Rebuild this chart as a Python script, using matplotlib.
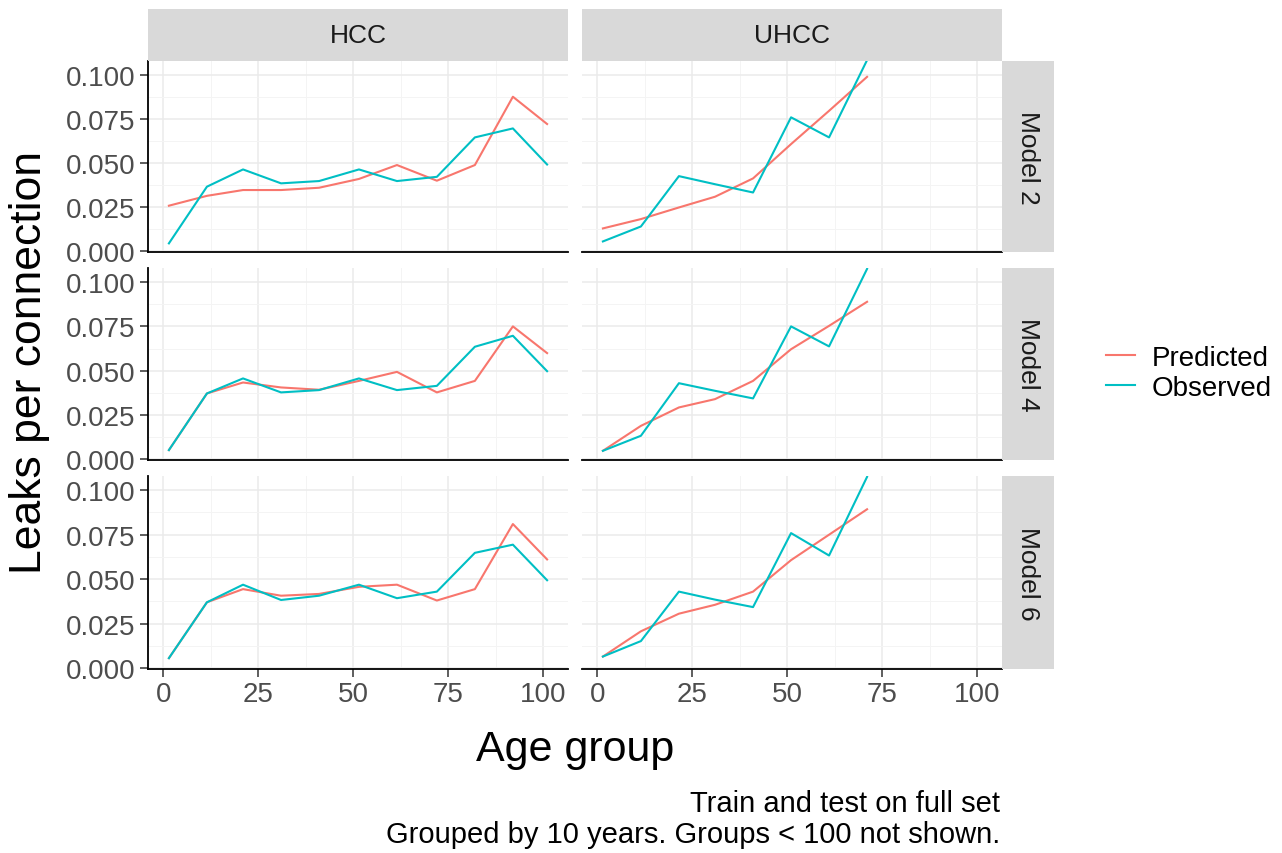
import matplotlib
matplotlib.use('Agg')
import matplotlib.pyplot as plt
from matplotlib.lines import Line2D
from matplotlib.ticker import MultipleLocator, FormatStrFormatter
import numpy as np

plt.rcParams['font.family'] = ['Liberation Sans', 'DejaVu Sans']

# age group means
ages_hcc = [1.5, 11.5, 21, 31, 41, 51.5, 61.5, 72, 82, 92, 101]
ages_uhcc = [1.5, 11.5, 21.5, 31, 41, 51, 61, 71]

models = ['Model 2', 'Model 4', 'Model 6']
sets = ['HCC', 'UHCC']

# leaks per connection, HCC
hcc_pred = {
    'Model 2': [0.0258, 0.0314, 0.0347, 0.0347, 0.0360, 0.0410, 0.0489, 0.0400, 0.0489, 0.0877, 0.0722],
    'Model 4': [0.0051, 0.0371, 0.0433, 0.0405, 0.0392, 0.0442, 0.0493, 0.0377, 0.0442, 0.0750, 0.0599],
    'Model 6': [0.0056, 0.0370, 0.0444, 0.0407, 0.0417, 0.0457, 0.0469, 0.0380, 0.0444, 0.0810, 0.0611],
}
hcc_obs = {
    'Model 2': [0.0044, 0.0366, 0.0464, 0.0385, 0.0398, 0.0464, 0.0398, 0.0422, 0.0646, 0.0697, 0.0492],
    'Model 4': [0.0051, 0.0371, 0.0456, 0.0377, 0.0390, 0.0456, 0.0390, 0.0414, 0.0635, 0.0697, 0.0497],
    'Model 6': [0.0056, 0.0370, 0.0469, 0.0383, 0.0407, 0.0469, 0.0393, 0.0430, 0.0648, 0.0694, 0.0494],
}

# leaks per connection, UHCC
uhcc_pred = {
    'Model 2': [0.0129, 0.0182, 0.0248, 0.0309, 0.0413, 0.0608, 0.0797, 0.0990],
    'Model 4': [0.0047, 0.0188, 0.0292, 0.0339, 0.0442, 0.0621, 0.0753, 0.0889],
    'Model 6': [0.0065, 0.0207, 0.0306, 0.0356, 0.0430, 0.0607, 0.0750, 0.0893],
}
uhcc_obs = {
    'Model 2': [0.0055, 0.0140, 0.0426, 0.0380, 0.0333, 0.0760, 0.0646, 0.1085],
    'Model 4': [0.0047, 0.0132, 0.0429, 0.0386, 0.0343, 0.0750, 0.0637, 0.1075],
    'Model 6': [0.0065, 0.0152, 0.0430, 0.0385, 0.0343, 0.0759, 0.0633, 0.1075],
}

pred_col = '#F8766D'
obs_col = '#00BFC4'
strip_col = '#D9D9D9'

W, H = 1282, 854
fig = plt.figure(figsize=(W / 100, H / 100), dpi=100)

def fbox(x0, y0, x1, y1):
    # pixel box (top-left origin) -> figure coords
    return [x0 / W, 1 - y1 / H, (x1 - x0) / W, (y1 - y0) / H]

col_x = [(148, 568), (582, 1002)]
row_y = [(62, 253), (269, 461), (477, 670)]

for r, m in enumerate(models):
    for c, s in enumerate(sets):
        ax = fig.add_axes(fbox(col_x[c][0], row_y[r][0], col_x[c][1], row_y[r][1]))
        if s == 'HCC':
            ax.plot(ages_hcc, hcc_pred[m], color=pred_col, lw=1.5)
            ax.plot(ages_hcc, hcc_obs[m], color=obs_col, lw=1.5)
        else:
            ax.plot(ages_uhcc, uhcc_pred[m], color=pred_col, lw=1.5)
            ax.plot(ages_uhcc, uhcc_obs[m], color=obs_col, lw=1.5)
        ax.set_xlim(-4, 106.5)
        ax.set_ylim(-0.0005, 0.108)
        ax.xaxis.set_major_locator(MultipleLocator(25))
        ax.xaxis.set_minor_locator(MultipleLocator(12.5))
        ax.yaxis.set_major_locator(MultipleLocator(0.025))
        ax.yaxis.set_minor_locator(MultipleLocator(0.0125))
        ax.yaxis.set_major_formatter(FormatStrFormatter('%.3f'))
        ax.grid(which='major', color='#EBEBEB', lw=1.1)
        ax.grid(which='minor', color='#F4F4F4', lw=0.7)
        ax.set_axisbelow(True)
        for sp in ['top', 'right']:
            ax.spines[sp].set_visible(False)
        ax.spines['bottom'].set_color('black')
        ax.spines['bottom'].set_linewidth(1.3)
        ax.spines['left'].set_color('black')
        ax.spines['left'].set_linewidth(1.3)
        ax.tick_params(which='minor', length=0)
        ax.tick_params(which='major', labelsize=20, labelcolor='#4D4D4D',
                       color='#333333', width=1.1, length=6, pad=3)
        if c == 1:
            ax.spines['left'].set_visible(False)
            ax.tick_params(axis='y', left=False, labelleft=False)
        if r < 2:
            ax.tick_params(axis='x', bottom=False, labelbottom=False)

        # top strips
        if r == 0:
            sax = fig.add_axes(fbox(col_x[c][0], 10, col_x[c][1], 62))
            sax.set_facecolor(strip_col)
            sax.set_xticks([]); sax.set_yticks([])
            for sp in sax.spines.values():
                sp.set_visible(False)
            sax.text(0.5, 0.5, s, ha='center', va='center', fontsize=19,
                     color='#1A1A1A', transform=sax.transAxes)
    # right strips
    rax = fig.add_axes(fbox(1002, row_y[r][0], 1054, row_y[r][1]))
    rax.set_facecolor(strip_col)
    rax.set_xticks([]); rax.set_yticks([])
    for sp in rax.spines.values():
        sp.set_visible(False)
    rax.text(0.5, 0.5, m, ha='center', va='center', fontsize=19, rotation=270,
             color='#1A1A1A', transform=rax.transAxes)

fig.text(30 / W, 1 - 362 / H, 'Leaks per connection', rotation=90,
         ha='center', va='center', fontsize=32, color='black')
fig.text(575 / W, 1 - 750 / H, 'Age group', ha='center', va='center',
         fontsize=31, color='black')
fig.text(1000 / W, 1 - 790 / H, 'Train and test on full set\nGrouped by 10 years. Groups < 100 not shown.',
         ha='right', va='top', multialignment='right', fontsize=21,
         color='black', linespacing=1.12)

handles = [Line2D([], [], color=pred_col, lw=1.5), Line2D([], [], color=obs_col, lw=1.5)]
fig.legend(handles, ['Predicted', 'Observed'], loc='center left',
           bbox_to_anchor=(1106 / W, 1 - 374 / H), frameon=False, fontsize=20,
           handlelength=1.05, handletextpad=0.6, labelspacing=0.15,
           borderpad=0, borderaxespad=0)

fig.savefig('out.png', dpi=100)
